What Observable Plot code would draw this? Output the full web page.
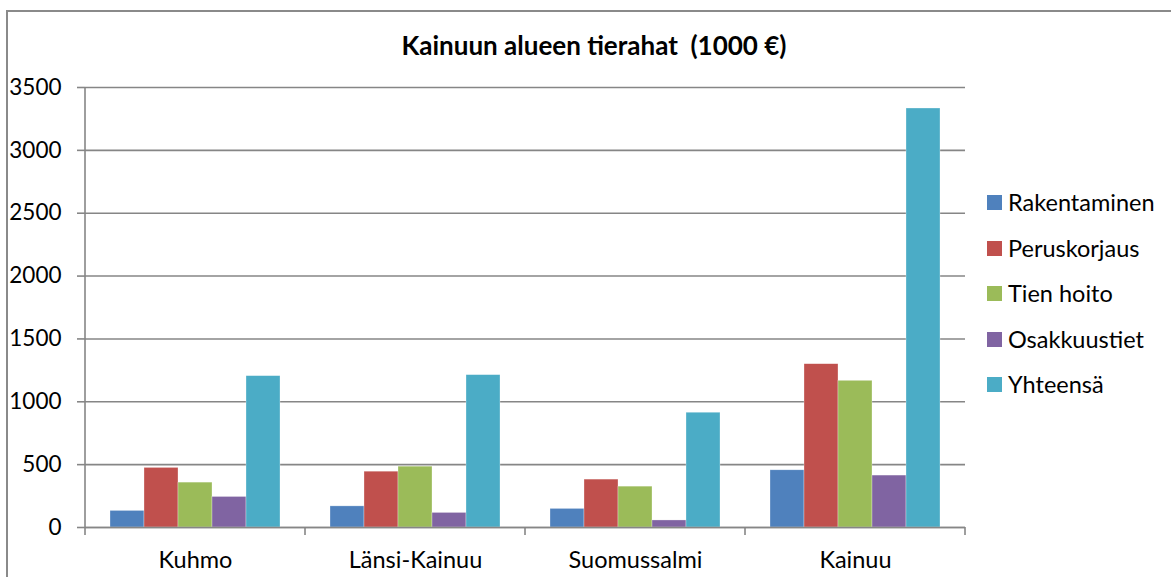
<!DOCTYPE html>
<html>
<head>
<meta charset="utf-8">
<script src="https://cdn.jsdelivr.net/npm/d3@7"></script>
<script src="https://cdn.jsdelivr.net/npm/@observablehq/plot@0.6"></script>
<style>
  html, body { margin: 0; padding: 0; background: #fff; overflow: hidden; }
  #wrap { position: relative; width: 1171px; height: 577px; font-family: Lato, "Open Sans", sans-serif; }
  #border { position: absolute; left: 6px; top: 10px; width: 1300px; height: 700px; border: 2px solid #8a8a8a; box-sizing: border-box; }
  #title { position: absolute; left: 0; width: 1188px; top: 29px; text-align: center; font-weight: bold; font-size: 26px; color: #000; }
  #legend { position: absolute; left: 987px; top: 188px; }
  .item { height: 45.5px; display: flex; align-items: flex-start; font-size: 23.5px; color: #000; }
  .sw { width: 15px; height: 15px; margin-right: 6px; margin-top: 7px; flex: none; }
  #chart { position: absolute; left: 0; top: 0; }
</style>
</head>
<body>
<div id="wrap">
  <div id="border"></div>
  <div id="title">Kainuun alueen tierahat&nbsp; (1000 €)</div>
  <div id="chart"></div>
  <div id="legend"></div>
</div>
<script>
const categories = ["Kuhmo", "Länsi-Kainuu", "Suomussalmi", "Kainuu"];
const series = ["Rakentaminen", "Peruskorjaus", "Tien hoito", "Osakkuustiet", "Yhteensä"];
const colors = ["#4F81BD", "#C0504D", "#9BBB59", "#8064A2", "#4BACC6"];
const rakentaminen = [132, 168, 148, 455];
const peruskorjaus = [474, 444, 381, 1299];
const tienHoito = [357, 484, 325, 1167];
const osakkuustiet = [243, 116, 56, 413];
const yhteensa = [1204, 1212, 913, 3333];
const yTicks = [0, 500, 1000, 1500, 2000, 2500, 3000, 3500];

const valuesBySeries = [rakentaminen, peruskorjaus, tienHoito, osakkuustiet, yhteensa];
const data = [];
categories.forEach((c, i) => {
  series.forEach((s, j) => data.push({category: c, series: s, value: valuesBySeries[j][i]}));
});

const W = 1171, H = 577;
const chart = Plot.plot({
  width: W,
  height: H,
  marginLeft: 85,
  marginRight: 206,
  marginTop: 87,
  marginBottom: 50,
  style: {fontFamily: "Lato, 'Open Sans', sans-serif", background: "transparent", color: "#000"},
  fx: {domain: categories, padding: 0, label: null},
  x: {domain: series, paddingInner: 0, paddingOuter: 0.735, axis: null},
  y: {domain: [0, 3500], ticks: yTicks, label: null},
  color: {domain: series, range: colors},
  marks: [
    Plot.gridY(yTicks, {stroke: "#868686", strokeOpacity: 1, strokeWidth: 1.6}),
    Plot.barY(data, {fx: "category", x: "series", y: "value", fill: "series", stroke: "#ffffff", strokeOpacity: 0.5, strokeWidth: 0.6}),
    Plot.ruleY([0], {stroke: "#868686", strokeWidth: 1.6}),
    Plot.axisY(yTicks, {tickSize: 8, tickPadding: 16, fontSize: 22.5, stroke: "#868686", strokeWidth: 1.6, label: null, tickFormat: d => String(d)}),
    Plot.axisFx({anchor: "bottom", tickSize: 0, tickPadding: 24, fontSize: 23.5, label: null})
  ]
});
document.getElementById("chart").appendChild(chart);

// Category boundary ticks and vertical axis line, positioned through Plot's own scales
const fx = chart.scale("fx");
const y = chart.scale("y");
const svg = d3.select(chart);
const y0 = y.apply(0), yTop = y.apply(3500);
const bounds = categories.map(c => fx.apply(c)).concat([fx.apply(categories[categories.length - 1]) + fx.step]);
svg.append("line").attr("x1", bounds[0]).attr("x2", bounds[0]).attr("y1", yTop).attr("y2", y0)
  .attr("stroke", "#868686").attr("stroke-width", 1.6);
bounds.forEach(b => {
  svg.append("line").attr("x1", b).attr("x2", b).attr("y1", y0).attr("y2", y0 + 8)
    .attr("stroke", "#868686").attr("stroke-width", 1.6);
});

// Legend
const legend = document.getElementById("legend");
series.forEach((s, i) => {
  const item = document.createElement("div");
  item.className = "item";
  const sw = document.createElement("div");
  sw.className = "sw";
  sw.style.background = colors[i];
  const t = document.createElement("span");
  t.textContent = s;
  item.appendChild(sw);
  item.appendChild(t);
  legend.appendChild(item);
});
</script>
</body>
</html>
